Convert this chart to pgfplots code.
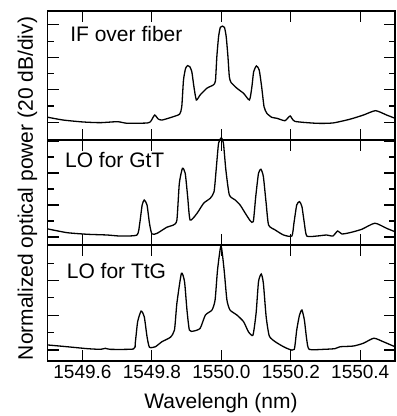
\documentclass[border=0pt]{standalone}
\usepackage{pgfplots}
\pgfplotsset{compat=1.18}
\usepackage{fontspec}
\setmainfont{Liberation Sans}
\newcommand{\tl}[1]{\hbox{\fontsize{19}{21}\selectfont #1}}

\pgfplotsset{
 panel/.style={
  scale only axis, width=347.3pt, xmin=1549.5, xmax=1550.5,
  xtick={1549.6,1549.8,1550.0,1550.2,1550.4},
  tick align=inside, xtick pos=both, ytick pos=both,
  ytick={0,20,40,60}, minor ytick={10,30,50},
  yticklabels={},
  major tick length=11pt, minor tick length=6pt,
  axis line style={line width=1.2pt},
  tick style={black, line width=1.1pt},
  anchor=south west, clip=false,
 },
 curve/.style={black, line width=1.3pt, no markers, smooth, tension=0.35},
}

\begin{document}
\begin{tikzpicture}[x=1pt,y=1pt]
% ---------------- Panel 1: IF over fiber
\begin{axis}[panel, at={(47.7pt,276pt)}, height=129pt, ymin=-11, ymax=68.6, xticklabels={}]
\addplot[curve] coordinates {
(1549.501,3.0) (1549.545,1.3) (1549.603,0.1) (1549.652,-0.3) (1549.701,0.3) (1549.729,-0.7)
(1549.787,-0.5) (1549.797,0.6) (1549.808,4.4) (1549.818,2.0) (1549.829,1.3) (1549.862,3.4)
(1549.880,5.0) (1549.886,9.5) (1549.891,26.0) (1549.897,33.2) (1549.903,34.9) (1549.909,34.3)
(1549.915,31.1) (1549.921,21.9) (1549.928,13.7) (1549.939,16.8) (1549.958,20.9) (1549.977,23.0)
(1549.983,25.5) (1549.987,40.4) (1549.992,52.7) (1549.997,58.5) (1550.003,59.3) (1550.009,58.5)
(1550.014,52.7) (1550.019,40.4) (1550.023,28.0) (1550.028,24.5) (1550.045,20.9) (1550.064,17.8)
(1550.081,13.7) (1550.088,21.9) (1550.093,31.1) (1550.101,34.7) (1550.109,32.2) (1550.116,21.9)
(1550.123,9.5) (1550.131,5.5) (1550.145,3.0) (1550.160,2.4) (1550.183,0.9) (1550.198,3.8)
(1550.212,0.5) (1550.275,-0.7) (1550.321,-0.5) (1550.370,1.8) (1550.409,4.4) (1550.444,7.1)
(1550.476,4.4) (1550.500,2.4)
};
\node[anchor=base west, font=\fontsize{21}{24}\selectfont] at (rel axis cs:0.055,0.762) {IF over fiber};
\end{axis}
% ---------------- Panel 2: LO for GtT
\begin{axis}[panel, at={(47.7pt,171pt)}, height=105pt, ymin=-5, ymax=60.6, xticklabels={}]
\addplot[curve] coordinates {
(1549.501,5.0) (1549.556,2.7) (1549.614,1.7) (1549.671,1.25) (1549.709,0.6) (1549.757,1.25)
(1549.765,8.6) (1549.772,20) (1549.778,23.1) (1549.786,20) (1549.793,8.6) (1549.800,1.9)
(1549.815,2.3) (1549.843,6.1) (1549.862,7.5) (1549.872,10.6) (1549.879,33.5) (1549.888,42.9)
(1549.896,39.8) (1549.903,25.2) (1549.910,10.6) (1549.930,14.8) (1549.949,21.1) (1549.968,24.2)
(1549.979,28.3) (1549.985,41.9) (1549.992,58.6) (1550.000,62) (1550.006,58.6) (1550.013,41.9)
(1550.023,26.3) (1550.040,23.1) (1550.054,20) (1550.069,14.8) (1550.083,10.2) (1550.092,9.6)
(1550.099,25.2) (1550.107,39.8) (1550.114,42.3) (1550.121,37.7) (1550.129,21.1) (1550.136,7.5)
(1550.155,4.4) (1550.179,1.25) (1550.203,0.6) (1550.209,8.6) (1550.217,20) (1550.225,22.1)
(1550.232,19) (1550.239,8.6) (1550.246,0.6) (1550.275,0.6) (1550.303,1.25) (1550.321,0.6)
(1550.335,3.75) (1550.347,1.9) (1550.370,2.7) (1550.404,4.8) (1550.442,8.6) (1550.476,5.4)
(1550.500,3.3)
};
\node[anchor=base west, font=\fontsize{21}{24}\selectfont] at (rel axis cs:0.040,0.736) {LO for GtT};
\end{axis}
% ---------------- Panel 3: LO for TtG
\begin{axis}[panel, at={(47.7pt,55pt)}, height=116pt, ymin=-6.3, ymax=60.4,
  xticklabels={{\tl{1549.6}},{\tl{1549.8}},{\tl{1550.0}},{\tl{1550.2}},{\tl{1550.4}}},
  xticklabel style={yshift=-1pt}]
\addplot[curve] coordinates {
(1549.501,2.9) (1549.556,1.9) (1549.614,0.8) (1549.652,0.4) (1549.666,1.0) (1549.680,0.4)
(1549.747,0.6) (1549.752,3.9) (1549.759,16.3) (1549.769,22.4) (1549.778,19.2) (1549.786,7.7)
(1549.793,1.6) (1549.810,1.9) (1549.829,4.8) (1549.853,7.3) (1549.865,11.5) (1549.872,26.9)
(1549.885,44.1) (1549.894,39.3) (1549.901,23.0) (1549.908,11.5) (1549.920,10.9) (1549.939,12.5)
(1549.954,20.1) (1549.973,23.0) (1549.982,28.8) (1549.989,46.0) (1549.999,60) (1550.008,46.0)
(1550.016,28.8) (1550.025,23.0) (1550.045,20.1) (1550.064,16.3) (1550.078,10.5) (1550.091,8.6)
(1550.100,21.1) (1550.107,39.3) (1550.115,43.7) (1550.121,38.4) (1550.129,19.2) (1550.138,8.1)
(1550.155,4.8) (1550.179,1.9) (1550.196,0.4) (1550.210,0.4) (1550.217,11.5) (1550.225,20.1)
(1550.232,23.0) (1550.239,17.3) (1550.246,5.8) (1550.253,0.4) (1550.294,0.4) (1550.327,0.8)
(1550.342,1.9) (1550.380,2.3) (1550.409,3.9) (1550.439,6.8) (1550.466,4.8) (1550.500,1.9)
};
\node[anchor=base west, font=\fontsize{21}{24}\selectfont] at (rel axis cs:0.045,0.713) {LO for TtG};
\end{axis}
% axis labels
\node[anchor=base, font=\fontsize{21}{24}\selectfont] at (221pt,8pt) {Wavelengh (nm)};
\node[anchor=base, rotate=90, font=\fontsize{21}{24}\selectfont] at (33pt,227.5pt) {Normalized optical power (20 dB/div)};
\pgfresetboundingbox
\useasboundingbox (0pt,0pt) rectangle (397pt,416pt);
\end{tikzpicture}
\end{document}
